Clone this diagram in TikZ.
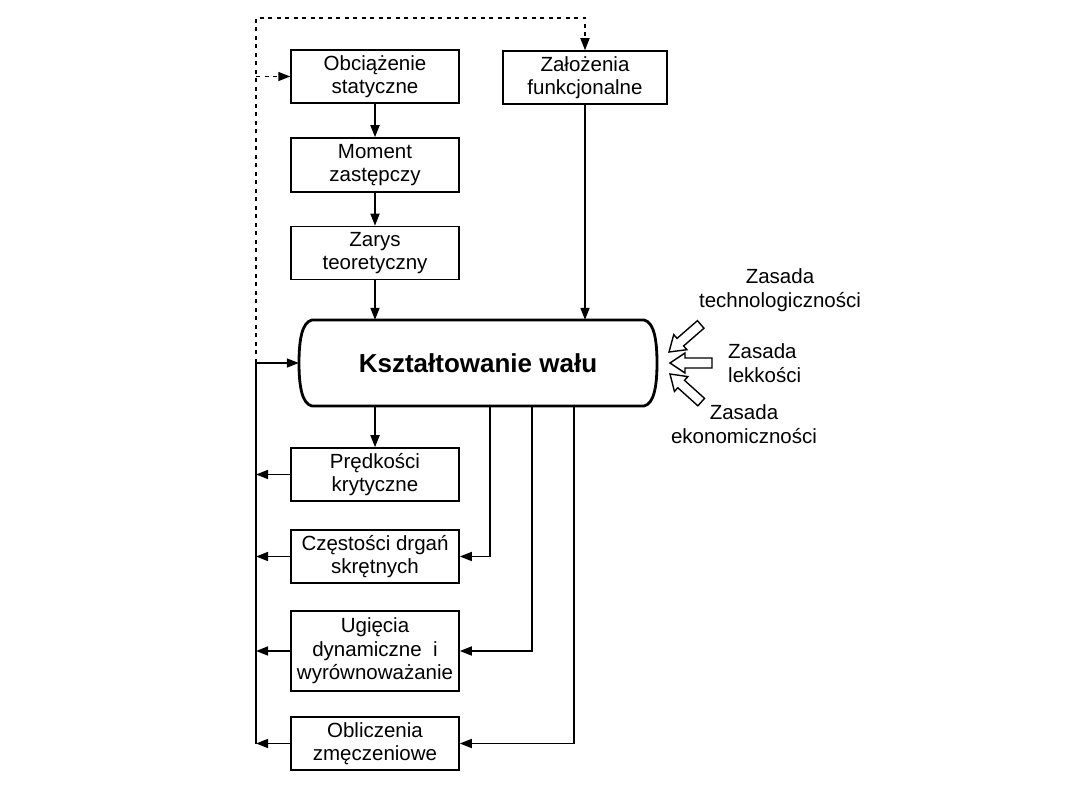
\documentclass[tikz,border=0pt]{standalone}
\usepackage{fontspec}
\setmainfont{Liberation Sans}
\usetikzlibrary{arrows.meta}
\begin{document}
\begin{tikzpicture}[x=1pt,y=-1pt,
  every node/.style={font=\fontsize{20.5}{23.5}\selectfont},
  box/.style={draw,line width=1.5pt,minimum width=168pt,inner sep=0pt,align=center},
  conn/.style={line width=1.7pt},
  arr/.style={conn,-{Triangle[length=12pt,width=9pt]}},
  dots/.style={line width=1.5pt,dash pattern=on 4pt off 4.5pt},
  darr/.style={dots,-{Triangle[length=12pt,width=9pt]}},
  hollow/.style={draw,line width=1.4pt,fill=white,line join=miter},
  lbl/.style={align=center,inner sep=0pt}]
\useasboundingbox (0,0) rectangle (1080,810);

% upper left column
\node[box,minimum height=53pt] (ob) at (375,76.5) {Obciążenie\\statyczne};
\node[box,minimum height=54pt] (mo) at (375,165) {Moment\\zastępczy};
\node[box,minimum height=53pt] (za) at (375,253) {Zarys\\teoretyczny};
\node[box,minimum width=164pt,minimum height=53pt] (zf) at (585,77.5) {Założenia\\funkcjonalne};

% main box
\node[inner sep=0pt,minimum width=358pt,minimum height=86pt,font=\bfseries\fontsize{26}{30}\selectfont] (main) at (478,363) {Kształtowanie wału};
\draw[line width=2.8pt] (312,320) -- (644,320) .. controls (654,322) and (657,340) .. (657,363)
  .. controls (657,386) and (654,404) .. (644,406) -- (312,406)
  .. controls (302,404) and (299,386) .. (299,363)
  .. controls (299,340) and (302,322) .. (312,320) -- cycle;

% lower column
\node[box,minimum height=53pt] (pr) at (375,474.5) {Prędkości\\krytyczne};
\node[box,minimum height=53pt] (cz) at (375,556.5) {Częstości drgań\\skrętnych};
\node[box,minimum height=80pt] (ug) at (375,651) {Ugięcia\\dynamiczne \ i\\wyrównoważanie};
\node[box,minimum height=53pt] (oz) at (375,743.5) {Obliczenia\\zmęczeniowe};

% vertical flow
\draw[arr] (ob) -- (mo);
\draw[arr] (mo) -- (za);
\draw[arr] (za.south) -- (za.south |- main.north);
\draw[arr] (zf.south) -- (zf.south |- main.north);
\draw[arr] (main.south -| pr.north) -- (pr.north);

% right-hand returns
\coordinate (r1) at (490,406);
\coordinate (r2) at (532,406);
\coordinate (r3) at (574,406);
\draw[arr] (r1) |- (cz.east);
\draw[arr] (r2) |- (ug.east);
\draw[arr] (r3) |- (oz.east);

% left feedback
\coordinate (fb) at (256,363);
\coordinate (fbtop) at (256,18);
\draw[conn] (fb |- oz.west) -- (fb);
\draw[arr] (fb) -- (main.west);
\draw[arr] (pr.west) -- (pr.west -| fb);
\draw[arr] (cz.west) -- (cz.west -| fb);
\draw[arr] (ug.west) -- (ug.west -| fb);
\draw[arr] (oz.west) -- (oz.west -| fb);
\draw[darr] (fb) -- (fbtop) -| (zf.north);
\draw[darr] (ob.west -| fbtop) -- (ob.west);

% hollow principle arrows
\begin{scope}[shift={(669,352)},rotate=41]
\draw[hollow] (0,0) -- (15,-10) -- (15,-5) -- (42,-5) -- (42,5) -- (15,5) -- (15,10) -- cycle;
\end{scope}
\begin{scope}[shift={(670,363)}]
\draw[hollow] (0,0) -- (15,-10) -- (15,-5) -- (42,-5) -- (42,5) -- (15,5) -- (15,10) -- cycle;
\end{scope}
\begin{scope}[shift={(670,374)},rotate=-42]
\draw[hollow] (0,0) -- (15,-10) -- (15,-5) -- (42,-5) -- (42,5) -- (15,5) -- (15,10) -- cycle;
\end{scope}

\node[lbl] (t1) at (780,290) {Zasada\\technologiczności};
\node[lbl,align=left,anchor=west] (t2) at (728,363) {Zasada\\lekkości};
\node[lbl] (t3) at (744,424) {Zasada\\ekonomiczności};
\end{tikzpicture}
\end{document}
